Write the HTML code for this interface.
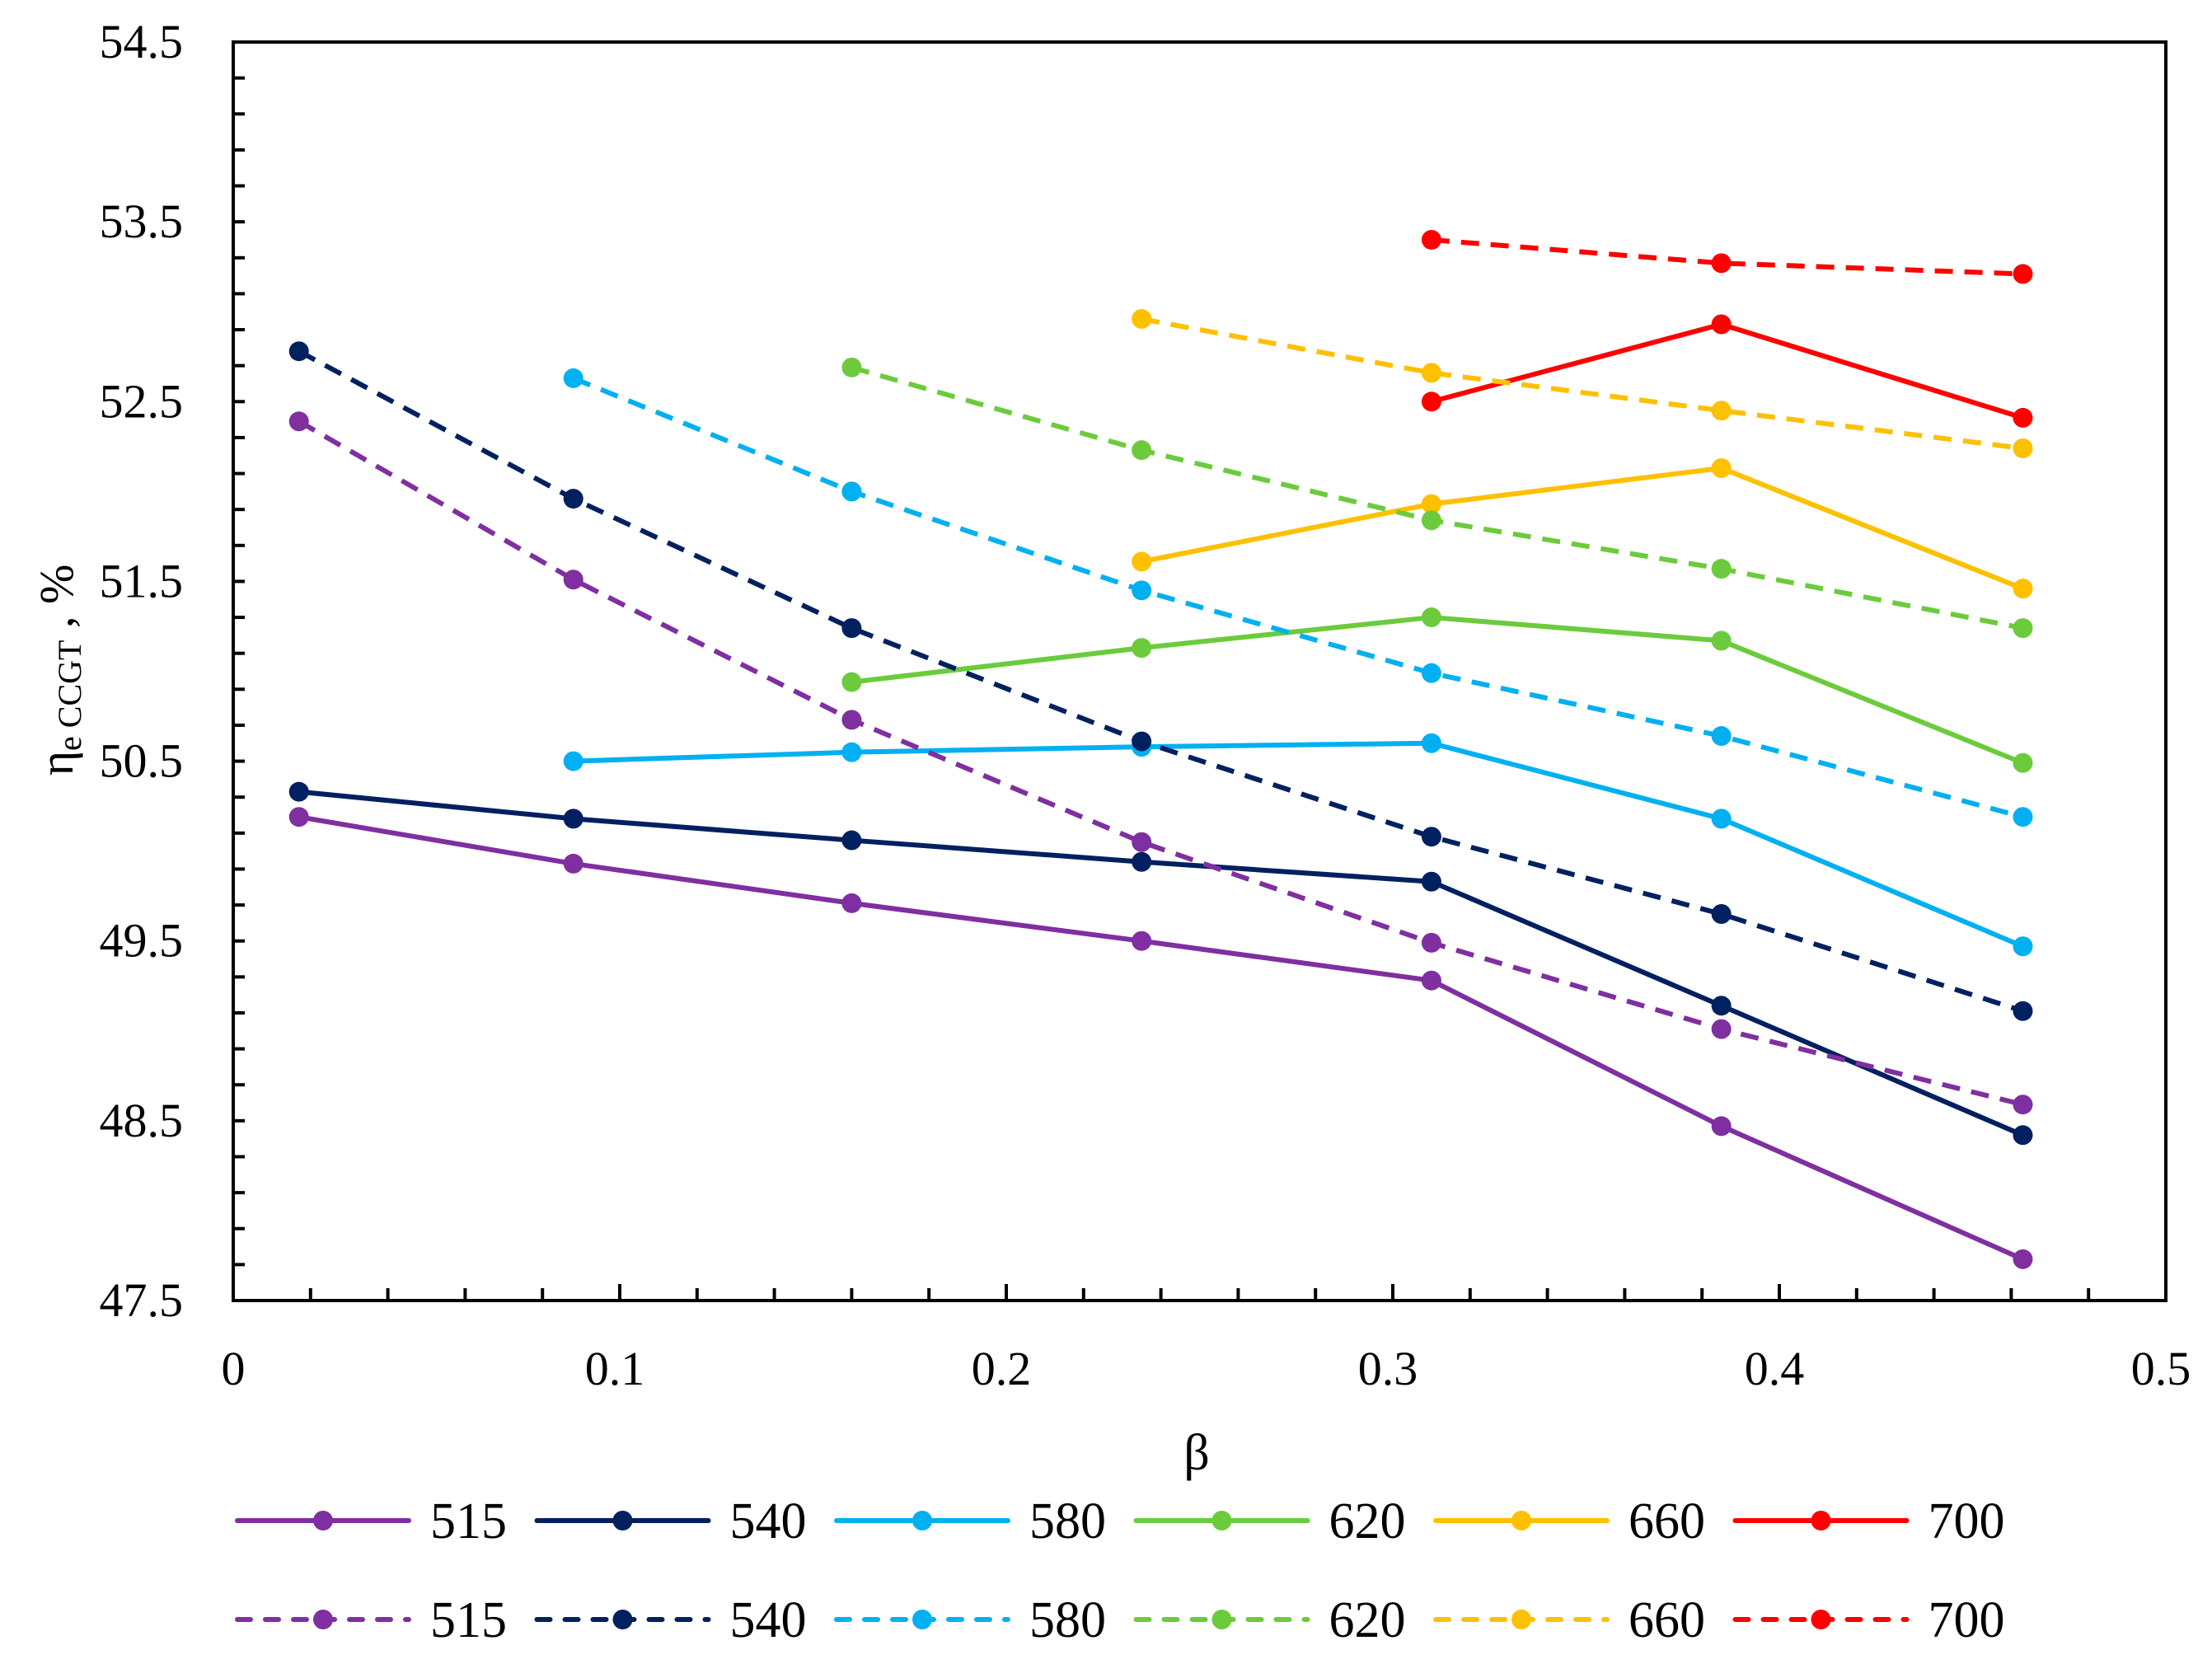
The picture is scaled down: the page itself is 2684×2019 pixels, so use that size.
<!DOCTYPE html>
<html><head><meta charset="utf-8"><title>Efficiency vs beta</title>
<style>
html,body{margin:0;padding:0;background:#fff;}
svg{display:block;font-family:"Liberation Serif","Times New Roman",serif;}
</style></head>
<body>
<svg id="chart" width="2684" height="2019" viewBox="0 0 2684 2019" xmlns="http://www.w3.org/2000/svg">
<rect x="0" y="0" width="2684" height="2019" fill="#fff"/>
<g id="grid-axes"></g>
<g id="series"></g>
<g id="legend"></g>
<text x="1452" y="1783" font-size="62" text-anchor="middle">β</text>
<text transform="translate(88,813) rotate(-90)" font-size="58" text-anchor="middle">η<tspan font-size="40" dy="10">e CCGT</tspan><tspan dy="-10"> , %</tspan></text>
</svg>
<script>
const xVals = [0.017, 0.088, 0.16, 0.235, 0.31, 0.385, 0.463];
const seriesNames = ["515","540","580","620","660","700"];
const seriesColors = ["#7F2FA0","#002060","#00B0F0","#6CCB3C","#FFC000","#FF0000"];
const solid515 = [50.19, 49.93, 49.71, 49.50, 49.28, 48.47, 47.73];
const solid540 = [50.33, 50.18, 50.06, 49.94, 49.83, 49.14, 48.42];
const solid580 = [null, 50.50, 50.55, 50.58, 50.60, 50.18, 49.47];
const solid620 = [null, null, 50.94, 51.13, 51.30, 51.17, 50.49];
const solid660 = [null, null, null, 51.61, 51.93, 52.13, 51.46];
const solid700 = [null, null, null, null, 52.50, 52.93, 52.41];
const dash515 = [52.39, 51.51, 50.73, 50.05, 49.49, 49.01, 48.59];
const dash540 = [52.78, 51.96, 51.24, 50.61, 50.08, 49.65, 49.11];
const dash580 = [null, 52.63, 52.00, 51.45, 50.99, 50.64, 50.19];
const dash620 = [null, null, 52.69, 52.23, 51.84, 51.57, 51.24];
const dash660 = [null, null, null, 52.96, 52.66, 52.45, 52.24];
const dash700 = [null, null, null, null, 53.40, 53.27, 53.21];
const yTickLabels = ["47.5","48.5","49.5","50.5","51.5","52.5","53.5","54.5"];
const xTickLabels = ["0","0.1","0.2","0.3","0.4","0.5"];

const NS = "http://www.w3.org/2000/svg";
const L = 283, R = 2628, T = 51, B = 1578;
const xMin = 0, xMax = 0.5, yMin = 47.5, yMax = 54.5;
function xs(v){ return L + (v - xMin) / (xMax - xMin) * (R - L); }
function ys(v){ return B - (v - yMin) / (yMax - yMin) * (B - T); }
function mk(tag, attrs, parent){ const e = document.createElementNS(NS, tag); for (const k in attrs) e.setAttribute(k, attrs[k]); parent.appendChild(e); return e; }

const axes = document.getElementById("grid-axes");
const frame = mk("rect", {x:L, y:T, width:R-L, height:B-T, fill:"none", stroke:"#000", "stroke-width":4}, axes);


for (let i = 0; i <= 35; i++) {
  const v = yMin + i * 0.2;
  const y = ys(v);
  const t = mk("line", {x1:L, x2:L+14, y1:y, y2:y, stroke:"#000", "stroke-width":4}, axes);
  
  
}
yTickLabels.forEach(s => {
  const t = mk("text", {x:222, y:ys(parseFloat(s)) + 19, "font-size":58, "text-anchor":"end"}, axes);
  t.textContent = s;
  
  
});
for (let i = 1; i < 25; i++) {
  const v = i * 0.02;
  const x = xs(v);
  const major = i % 5 === 0;
  const t = mk("line", {x1:x, x2:x, y1:B, y2:B-(major?20:15), stroke:"#000", "stroke-width":4}, axes);
  
  
}
xTickLabels.forEach(s => {
  const t = mk("text", {x:xs(parseFloat(s)) + (s==="0"?0:-6), y:1680, "font-size":58, "text-anchor":"middle"}, axes);
  t.textContent = s;
  
  
});

const solids = [solid515, solid540, solid580, solid620, solid660, solid700];
const dashes = [dash515, dash540, dash580, dash620, dash660, dash700];
const sg = document.getElementById("series");
function drawSeries(arr, color, dashed, name){
  const g = mk("g", {}, sg);
  
  
  const pts = [];
  arr.forEach((v, i) => { if (v !== null) pts.push([xs(xVals[i]), ys(v)]); });
  const pl = mk("polyline", {points: pts.map(p => p.join(",")).join(" "), fill:"none", stroke:color, "stroke-width":6, "stroke-linejoin":"round"}, g);
  if (dashed) pl.setAttribute("stroke-dasharray", "22 14");
  
  
  pts.forEach(p => {
    const c = mk("circle", {cx:p[0], cy:p[1], r:12, fill:color}, g);
    
    
  });
}
seriesNames.forEach((n, i) => drawSeries(solids[i], seriesColors[i], false, "series-" + n + "-solid"));
seriesNames.forEach((n, i) => drawSeries(dashes[i], seriesColors[i], true, "series-" + n + "-dashed"));

const lg = document.getElementById("legend");
[1845, 1965].forEach((ly, row) => {
  seriesNames.forEach((n, i) => {
    const x0 = 288 + i * 363.5;
    const g = mk("g", {}, lg);
    
    
    const ln = mk("line", {x1:x0, x2:x0+208, y1:ly, y2:ly, stroke:seriesColors[i], "stroke-width":6, "stroke-linecap":"round"}, g);
    if (row) ln.setAttribute("stroke-dasharray", "16 18");
    mk("circle", {cx:x0+104, cy:ly, r:12, fill:seriesColors[i]}, g);
    const t = mk("text", {x:x0+234, y:ly+21, "font-size":62}, g);
    t.textContent = n;
  });
});
</script>
</body></html>
